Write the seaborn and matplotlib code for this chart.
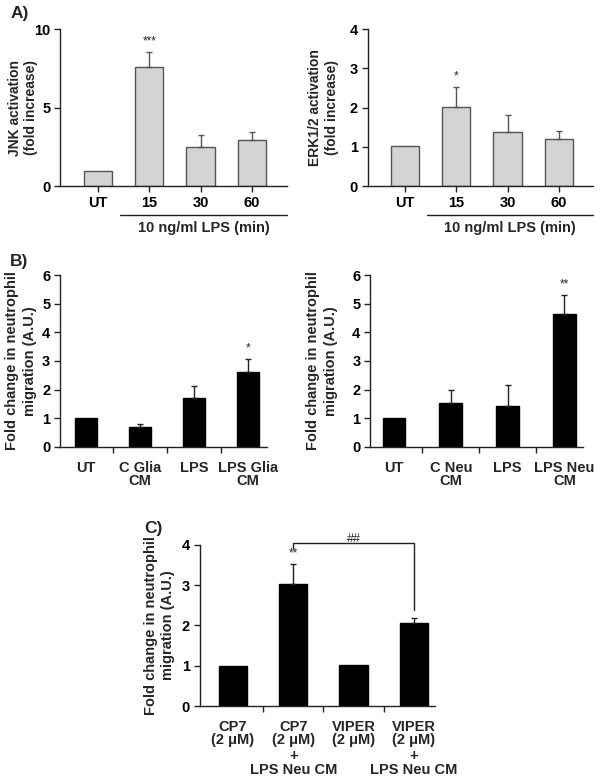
import numpy as np
import matplotlib
matplotlib.use("Agg")
import matplotlib.pyplot as plt
import matplotlib.transforms as mtransforms
import seaborn as sns

sns.set_theme(style="ticks")
plt.rcParams['font.family'] = ['Liberation Sans', 'DejaVu Sans']
plt.rcParams['font.weight'] = 'bold'
plt.rcParams['axes.labelweight'] = 'bold'

# panel A data
a_cats = ['UT', '15', '30', '60']
jnk_mean = [0.95, 7.6, 2.5, 2.95]
jnk_err = [0, 0.92, 0.72, 0.52]
erk_mean = [1.02, 2.02, 1.37, 1.19]
erk_err = [0, 0.50, 0.43, 0.20]

# panel B data
glia_cats = ['UT', 'C Glia\nCM', 'LPS', 'LPS Glia\nCM']
glia_mean = [1.0, 0.71, 1.70, 2.60]
glia_err = [0, 0.09, 0.43, 0.46]
neu_cats = ['UT', 'C Neu\nCM', 'LPS', 'LPS Neu\nCM']
neu_mean = [1.0, 1.52, 1.43, 4.64]
neu_err = [0, 0.48, 0.74, 0.65]

# panel C data
c_cats = ['CP7\n(2 \u03bcM)', 'CP7\n(2 \u03bcM)', 'VIPER\n(2 \u03bcM)', 'VIPER\n(2 \u03bcM)']
c_extra = ['', '+\nLPS Neu CM', '', '+\nLPS Neu CM']
c_mean = [1.0, 3.03, 1.02, 2.05]
c_err = [0, 0.50, 0, 0.13]

FS = 10.5
YLAB = 'Fold change in neutrophil\nmigration (A.U.)'
fig = plt.figure(figsize=(6, 7.76), dpi=100)


def bar_panel(rect, cats, mean, err, color, edge, ecolor, width, xlim, ylim,
              yticks, ylabel, ylab_fs, ylab_ls, ylab_x, between_ticks,
              stars=None, star_idx=None):
    ax = fig.add_axes(rect)
    x = np.arange(len(cats))
    sns.barplot(x=x, y=mean, ax=ax, color=color, edgecolor=edge, linewidth=1,
                width=width, errorbar=None, saturation=1)
    # upper error bars only, skip the reference bars without one
    m = np.array(err) > 0
    ax.errorbar(x[m], np.array(mean)[m], yerr=[np.zeros(m.sum()), np.array(err)[m]],
                fmt='none', ecolor=ecolor, elinewidth=1, capsize=2.5, capthick=1)
    ax.set_xlim(*xlim)
    ax.set_ylim(*ylim)
    ax.set_yticks(yticks)
    ax.set_yticklabels([str(t) for t in yticks], fontsize=FS, fontweight='bold')
    if between_ticks:
        ax.set_xticks(x[:-1] + 0.5)
        ax.set_xticklabels([])
        ax.set_xticks(x, minor=True)
        ax.set_xticklabels(cats, minor=True, fontsize=FS, fontweight='bold',
                           linespacing=0.95)
        ax.tick_params(axis='x', which='minor', length=0, pad=10)
    else:
        ax.set_xticks(x)
        ax.set_xticklabels(cats, fontsize=FS, fontweight='bold')
    ax.tick_params(axis='both', which='major', length=4, width=1,
                   color='#222222', labelcolor='black')
    ax.tick_params(axis='y', pad=3)
    ax.set_ylabel(ylabel, fontsize=ylab_fs, fontweight='bold',
                  linespacing=ylab_ls)
    ax.yaxis.set_label_coords(ylab_x, 0.5)
    for s in ['top', 'right']:
        ax.spines[s].set_visible(False)
    for s in ['left', 'bottom']:
        ax.spines[s].set_linewidth(1)
        ax.spines[s].set_color('#222222')
    ax.set_facecolor('white')
    if stars:
        i = star_idx
        ax.text(x[i], mean[i] + err[i] + (ylim[1] - ylim[0]) * 0.03, stars,
                ha='center', va='bottom', fontsize=8.5, fontweight='normal')
    return ax


# A left
ax1 = bar_panel([0.10, 0.7603, 0.378, 0.2023], a_cats, jnk_mean, jnk_err,
                '#d4d4d4', '#555555', '#555555', 0.55, (-0.74, 3.68), (0, 10),
                [0, 5, 10], 'JNK activation\n(fold increase)', 10, 1.25, -0.095,
                False, '***', 1)
# A right
ax2 = bar_panel([0.613, 0.7603, 0.375, 0.2023], a_cats, erk_mean, erk_err,
                '#d4d4d4', '#555555', '#555555', 0.55, (-0.72, 3.66), (0, 4),
                [0, 1, 2, 3, 4], 'ERK1/2 activation\n(fold increase)', 10, 1.25,
                -0.13, False, '*', 1)
for ax, x0 in [(ax1, 0.43), (ax2, 0.43)]:
    tr = mtransforms.blended_transform_factory(ax.transData, ax.transAxes)
    x1 = ax.get_xlim()[1]
    ax.plot([x0, x1], [-0.185, -0.185], color='#222222', lw=1,
            transform=tr, clip_on=False)
    ax.text((x0 + x1) / 2, -0.27, '10 ng/ml LPS (min)', transform=tr,
            ha='center', va='center', fontsize=FS, fontweight='bold')

# B left / right
ax3 = bar_panel([0.10, 0.424, 0.345, 0.2216], glia_cats, glia_mean, glia_err,
                'black', 'black', '#222222', 0.41, (-0.48, 3.35), (0, 6),
                list(range(7)), YLAB, 10.5, 1.4, -0.11, True, '*', 3)
ax4 = bar_panel([0.617, 0.424, 0.355, 0.2216], neu_cats, neu_mean, neu_err,
                'black', 'black', '#222222', 0.40, (-0.42, 3.33), (0, 6),
                list(range(7)), YLAB, 10.5, 1.4, -0.15, True, '**', 3)

# C
ax5 = bar_panel([0.333, 0.0902, 0.392, 0.2075], c_cats, c_mean, c_err,
                'black', 'black', '#222222', 0.47, (-0.55, 3.35), (0, 4),
                [0, 1, 2, 3, 4], YLAB, 10.5, 1.25, -0.105, True, '**', 1)
trc = mtransforms.blended_transform_factory(ax5.transData, ax5.transAxes)
for i, t in enumerate(c_extra):
    if t:
        ax5.text(i, -0.27, t, transform=trc, ha='center', va='top',
                 fontsize=FS, fontweight='bold', linespacing=0.95)
ax5.plot([1, 1, 3, 3], [3.92, 4.05, 4.05, 2.39], color='#222222', lw=1,
         clip_on=False)
ax5.text(2, 4.0, '##', ha='center', va='bottom', fontsize=9,
         fontweight='normal')

fig.text(0.017, 0.982, 'A)', fontsize=12.5, fontweight='bold', va='center')
fig.text(0.017, 0.663, 'B)', fontsize=12.5, fontweight='bold', va='center')
fig.text(0.24, 0.319, 'C)', fontsize=12.5, fontweight='bold', va='center')

fig.savefig('out.png', dpi=100, facecolor='white')
